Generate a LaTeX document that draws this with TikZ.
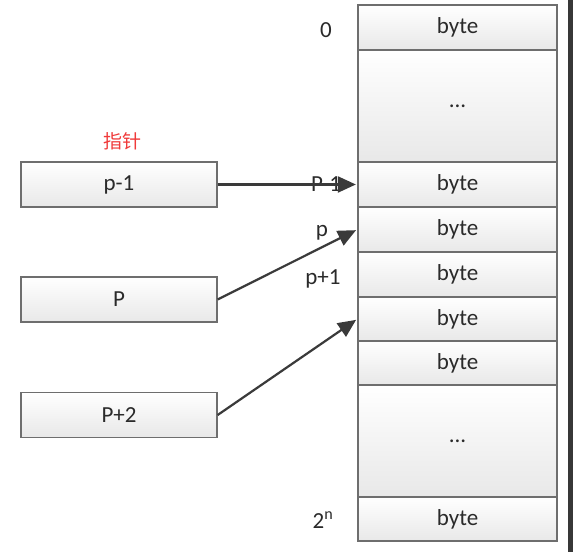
\documentclass[tikz,border=0pt]{standalone}
\usepackage{fontspec}
\setmainfont{Carlito}
\newfontfamily\cjkfont{Noto Sans CJK SC}
\usetikzlibrary{arrows.meta}
\definecolor{boxline}{HTML}{6E6E6E}
\definecolor{arrowgray}{HTML}{3A3A3A}
\definecolor{labelgray}{HTML}{2A2A2A}
\definecolor{notered}{HTML}{F03A3A}
\begin{document}
\begin{tikzpicture}[x=1pt,y=1pt,
  cell/.style={draw=boxline, line width=1.3pt, top color=white, bottom color=black!9,
    minimum width=199pt, inner sep=0pt, font=\fontsize{23}{23}\selectfont, text=labelgray},
  ptrbox/.style={draw=boxline, line width=1.3pt, top color=white, bottom color=black!9,
    minimum width=196pt, minimum height=45pt, inner sep=0pt,
    font=\fontsize{23}{23}\selectfont, text=labelgray},
  addr/.style={font=\fontsize{23}{23}\selectfont, text=labelgray, inner sep=0pt},
  ptrarrow/.style={draw=arrowgray, line width=2.2pt,
    -{Triangle[length=18pt,width=16pt]}, shorten >=1.5pt}
]
\useasboundingbox (0,0) rectangle (573,552);
\fill[white] (0,0) rectangle (573,552);
% screen edge on the right
\fill[black!78] (568,0) rectangle (573,552);

% memory column
\node[cell, minimum height=45pt]  (r0) at (457.5,524.5) {byte};
\node[cell, minimum height=112pt] (r1) at (457.5,446)   {...};
\node[cell, minimum height=45pt]  (r2) at (457.5,367.5) {byte};
\node[cell, minimum height=45pt]  (r3) at (457.5,322.5) {byte};
\node[cell, minimum height=45pt]  (r4) at (457.5,277.5) {byte};
\node[cell, minimum height=44pt]  (r5) at (457.5,233)   {byte};
\node[cell, minimum height=44pt]  (r6) at (457.5,189)   {byte};
\node[cell, minimum height=112pt] (r7) at (457.5,111)   {...};
\node[cell, minimum height=44pt]  (r8) at (457.5,33)    {byte};

% addresses
\node[addr] (a0)  at (326,522) {0};
\node[addr] (ap)  at (322,319) {p};
\node[addr] (ap1) at (323,273) {p+1};
\node[addr] (an)  at (323,32)  {2\textsuperscript{n}};

% pointer variables
\node[text=notered, inner sep=0pt, font=\cjkfont\fontsize{19}{19}\selectfont] (title) at (122,411) {指针};
\node[ptrbox] (pm1) at (119,367.5) {p-1};
\node[ptrbox] (pp)  at (119,252.5) {P};
\node[ptrbox] (pp2) at (119,137)   {P+2};

% pointer arrows
\node[addr] (am1) at (326,368) {P-1};
\draw[ptrarrow] (pm1.east) -- (r2.west);
\draw[ptrarrow] (pp.east) -- (r3.west);
\draw[ptrarrow] (pp2.east) -- (r5.west);
\end{tikzpicture}
\end{document}
